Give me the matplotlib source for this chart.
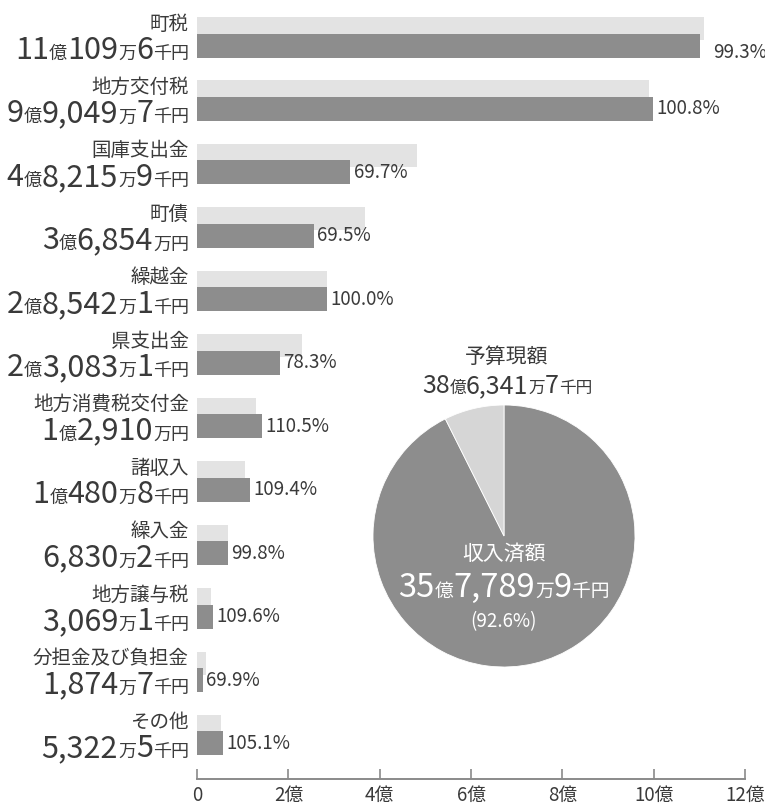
import re
import matplotlib
matplotlib.use('Agg')
import matplotlib.pyplot as plt

plt.rcParams['font.family'] = ['Noto Sans CJK JP', 'DejaVu Sans']

# data (amounts in 億円)
names = ['町税', '地方交付税', '国庫支出金', '町債', '繰越金', '県支出金',
         '地方消費税交付金', '諸収入', '繰入金', '地方譲与税', '分担金及び負担金', 'その他']
amount_labels = ['11億109万6千円', '9億9,049万7千円', '4億8,215万9千円', '3億6,854万円',
                 '2億8,542万1千円', '2億3,083万1千円', '1億2,910万円', '1億480万8千円',
                 '6,830万2千円', '3,069万1千円', '1,874万7千円', '5,322万5千円']
budget = [11.10096, 9.90497, 4.82159, 3.6854, 2.85421, 2.30831,
          1.2910, 1.04808, 0.68302, 0.30691, 0.18747, 0.53225]
received = [11.02, 9.98, 3.36, 2.56, 2.85, 1.81, 1.43, 1.15, 0.68, 0.34, 0.13, 0.56]
rates = ['99.3%', '100.8%', '69.7%', '69.5%', '100.0%', '78.3%',
         '110.5%', '109.4%', '99.8%', '109.6%', '69.9%', '105.1%']
tick_vals = [0, 2, 4, 6, 8, 10, 12]
tick_labels = ['0', '2億', '4億', '6億', '8億', '10億', '12億']

pie_title = '予算現額'
pie_total_label = '38億6,341万7千円'
pie_inner_title = '収入済額'
pie_inner_label = '35億7,789万9千円'
pie_inner_pct = '(92.6%)'
pie_total = 38.63417
pie_received = 35.77899

W, H = 765, 808
TXT = '#3a3a3a'
LIGHT = '#e3e3e3'
DARK = '#8d8d8d'

fig = plt.figure(figsize=(W / 100, H / 100), dpi=100)
renderer = fig.canvas.get_renderer()

# bar axes: x 0..12 spans px 197..745, rows 63.45 px apart
row = 63.45
c0 = 37
ax_bottom_px = 779
ax = fig.add_axes([197 / W, (H - ax_bottom_px) / H, 548 / W, ax_bottom_px / H])
ax.set_xlim(0, 12)
ax.set_ylim((ax_bottom_px - c0) / row, -c0 / row)

off = 8.5 / row
ys = list(range(len(names)))
ax.barh([y - off for y in ys], budget, height=23 / row, color=LIGHT, align='center')
ax.barh([y + off for y in ys], received, height=24 / row, color=DARK, align='center')

for i, (v, r) in enumerate(zip(received, rates)):
    dx, dy = (2.5, 0) if i > 0 else (9, -5)
    ax.annotate(r, (v, i + off), xytext=(dx, dy), textcoords='offset points',
                va='center', ha='left', fontsize=13.5, color=TXT, annotation_clip=False)

for s in ['top', 'right', 'left']:
    ax.spines[s].set_visible(False)
ax.spines['bottom'].set_color('#8a8a8a')
ax.spines['bottom'].set_linewidth(1.4)
ax.set_yticks([])
ax.set_xticks(tick_vals)
ax.set_xticklabels(tick_labels)
ax.tick_params(axis='x', direction='in', length=7, width=1.2, color='#8a8a8a',
               labelsize=13.5, labelcolor=TXT, pad=4)
ax.patch.set_alpha(0)


def rich(x, y, s, big, small, color, align='right'):
    chunks = [c for c in re.split(r'([億万千円]+)', s) if c]
    arts = []
    for c in chunks:
        size = small if re.fullmatch(r'[億万千円]+', c) else big
        arts.append(fig.text(0, 0, c, fontsize=size, color=color, va='baseline', ha='left'))
    widths = [t.get_window_extent(renderer).width for t in arts]
    x0 = x - sum(widths) if align == 'right' else x - sum(widths) / 2
    for t, w in zip(arts, widths):
        t.set_position((x0 / W, 1 - y / H))
        x0 += w


for i, (n, a) in enumerate(zip(names, amount_labels)):
    c = c0 + i * row
    fig.text(189 / W, 1 - (c - 13) / H, n, fontsize=14, color=TXT, ha='right', va='center')
    rich(189, c + 22, a, 22, 13, TXT)

# pie
cx, cy, r = 504, 536, 131
pax = fig.add_axes([(cx - r) / W, (H - cy - r) / H, 2 * r / W, 2 * r / H])
pax.pie([pie_received, pie_total - pie_received], colors=[DARK, '#d6d6d6'],
        startangle=90, counterclock=False,
        wedgeprops=dict(edgecolor='white', linewidth=0.6))
pax.set_xlim(-1, 1)
pax.set_ylim(-1, 1)
pax.set_aspect('equal')
pax.axis('off')

fig.text(507 / W, 1 - 357 / H, pie_title, fontsize=15, color=TXT, ha='center', va='center')
rich(507, 393, pie_total_label, 18, 12, TXT, align='center')
fig.text(504 / W, 1 - 554 / H, pie_inner_title, fontsize=15, color='white', ha='center', va='center')
rich(504, 597, pie_inner_label, 23.5, 13.5, 'white', align='center')
fig.text(504 / W, 1 - 622 / H, pie_inner_pct, fontsize=13.5, color='white', ha='center', va='center')

fig.savefig('out.png', dpi=100)
